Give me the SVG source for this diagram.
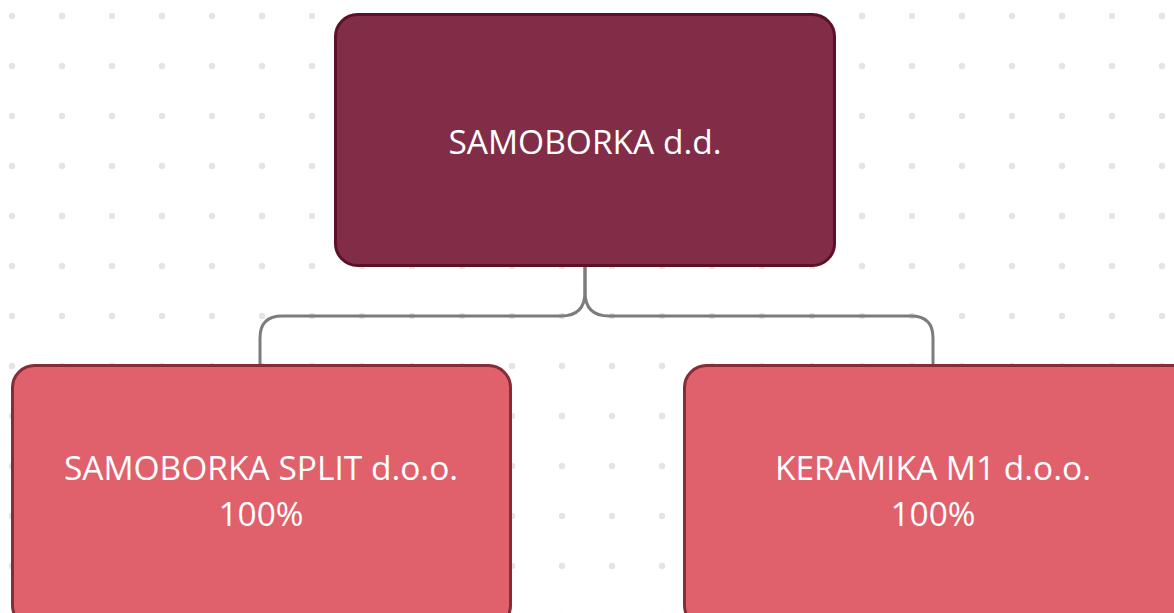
<svg xmlns="http://www.w3.org/2000/svg" width="1174" height="613" viewBox="0 0 1174 613">
  <defs>
    <pattern id="dots" x="0" y="0" width="50" height="50" patternUnits="userSpaceOnUse">
      <circle cx="12" cy="16" r="3.2" fill="#e3e3e8"/>
    </pattern>
    <style>
      .lbl { font-family: "Open Sans", "Noto Sans", sans-serif; font-size: 33.5px; fill: #ffffff; text-anchor: middle; }
      .root { fill: #812d48; stroke: #5c1126; stroke-width: 3; }
      .child { fill: #e0606b; stroke: #862c37; stroke-width: 3; }
      .conn { fill: none; stroke: #7c7c7c; stroke-width: 3; }
    </style>
  </defs>
  <rect width="1174" height="613" fill="#ffffff"/>
  <rect width="1174" height="613" fill="url(#dots)"/>
  <g id="connectors">
    <path class="conn" d="M585 266 V292 Q585 316 561 316 H282 Q260 316 260 338 V366"/>
    <path class="conn" d="M585 266 V292 Q585 316 609 316 H911 Q933 316 933 338 V366"/>
  </g>
  <g id="node-root">
    <rect class="root" x="335.500" y="14.500" width="499" height="251" rx="22"/>
    <text class="lbl" x="585" y="154">SAMOBORKA d.d.</text>
  </g>
  <g id="node-split">
    <rect class="child" x="12.500" y="365.500" width="498" height="262" rx="22"/>
    <text class="lbl" x="261" y="480">SAMOBORKA SPLIT d.o.o.</text>
    <text class="lbl" x="261" y="526">100%</text>
  </g>
  <g id="node-keramika">
    <rect class="child" x="684.500" y="365.500" width="510" height="262" rx="22"/>
    <text class="lbl" x="933" y="480">KERAMIKA M1 d.o.o.</text>
    <text class="lbl" x="933" y="526">100%</text>
  </g>
</svg>
